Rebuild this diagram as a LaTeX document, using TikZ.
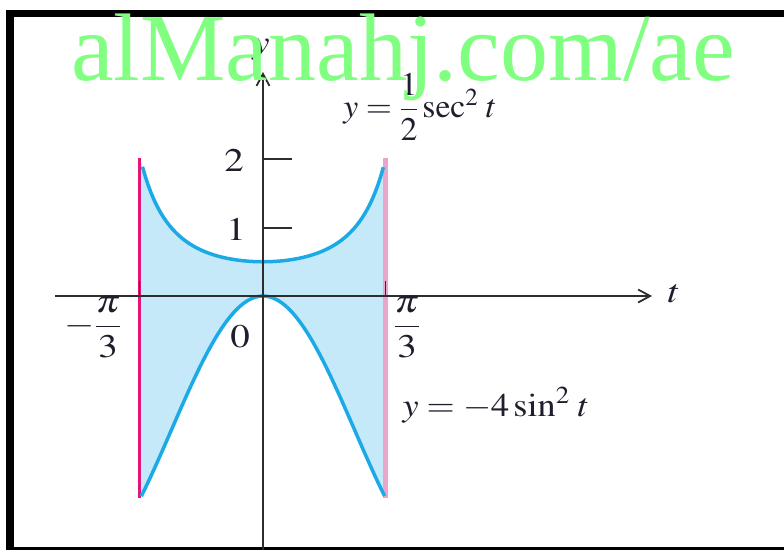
\documentclass[tikz,border=0pt]{standalone}
\usepackage{amsmath}
\usepackage{graphicx}
\usepackage{mathptmx}
\usepackage{fontspec}
\setmainfont{Liberation Serif}
\usetikzlibrary{arrows.meta}
\definecolor{curveblue}{RGB}{28,170,230}
\definecolor{fillblue}{RGB}{198,233,250}
\definecolor{magline}{RGB}{228,20,125}
\definecolor{pinkline}{RGB}{235,165,205}
\definecolor{axisgray}{RGB}{45,45,45}
\definecolor{txtdark}{RGB}{30,30,45}
\definecolor{wmgreen}{RGB}{128,255,128}
\newcommand{\widetxt}[1]{\scalebox{1.18}[1]{#1}}
\begin{document}
\begin{tikzpicture}[x=1pt,y=-1pt,
  axisline/.style={draw=axisgray,line width=1.8pt},
  tickmark/.style={draw=axisgray,line width=1.8pt},
  lbl/.style={inner sep=0pt,text=txtdark,font=\fontsize{33}{40}\selectfont},
  curveline/.style={draw=curveblue,line width=3.5pt},
  arrowtip/.style={-{Straight Barb[length=12pt,width=13pt,line width=1.8pt]}},
]
\useasboundingbox (0,0) rectangle (784,550);
% frame
\fill[black] (6,10) rectangle (784,17);
\fill[black] (6,10) rectangle (14,550);
\fill[black] (6,547) rectangle (784,550);
% shaded region
\fill[fillblue] plot[domain=-1.0472:1.0472,samples=80] ({263+117*\x},{296-68.5*0.5/(cos(\x r)*cos(\x r))})
  -- plot[domain=1.0472:-1.0472,samples=80] ({263+117*\x},{296+67.3*4*sin(\x r)*sin(\x r)}) -- cycle;
% vertical bounding lines
\coordinate (L1) at (139.5,158);
\coordinate (L2) at (139.5,498);
\coordinate (R1) at (385.5,158);
\coordinate (R2) at (385.5,498);
\draw[magline,line width=2.5pt] (L1) -- (L2);
\draw[pinkline,line width=5pt] (R1) -- (R2);
% curves
\draw[curveline] plot[domain=-1.03:1.03,samples=80] ({263+117*\x},{296-68.5*0.5/(cos(\x r)*cos(\x r))});
\draw[curveline] plot[domain=-1.04:1.04,samples=80] ({263+117*\x},{296+67.3*4*sin(\x r)*sin(\x r)});
% axes
\coordinate (xs) at (55,296);
\coordinate (xe) at (652,296);
\coordinate (ys) at (263,550);
\coordinate (ye) at (263,72);
\draw[axisline,arrowtip] (xs) -- (xe);
\draw[axisline,arrowtip] (ys) -- (ye);
% ticks
\coordinate (t2a) at (263,159); \coordinate (t2b) at (292,159);
\coordinate (t1a) at (263,228); \coordinate (t1b) at (292,228);
\coordinate (tla) at (139.5,296); \coordinate (tlb) at (139.5,281);
\coordinate (tra) at (385.5,296); \coordinate (trb) at (385.5,281);
\draw[tickmark] (t2a) -- (t2b);
\draw[tickmark] (t1a) -- (t1b);
\draw[tickmark] (tla) -- (tlb);
\draw[tickmark] (tra) -- (trb);
% labels
\node[lbl] (lab2) at (234,160) {\widetxt{$2$}};
\node[lbl] (lab1) at (236,229) {\widetxt{$1$}};
\node[lbl] (lab0) at (240,337) {\widetxt{$0$}};
\node[lbl] (labm) at (93,327) {\widetxt{$-\dfrac{\pi}{3}$}};
\node[lbl] (labp) at (407,327) {\widetxt{$\dfrac{\pi}{3}$}};
\node[lbl] (labt) at (674,294) {\widetxt{$t$}};
\node[lbl] (laby) at (261,50) {\widetxt{$y$}};
\node[lbl] (eqsec) at (420,107) {\scalebox{1.02}[1]{$y=\dfrac{1}{2}\sec^2\,t$}};
\node[lbl] (eqsin) at (496,405) {\scalebox{1.1}[1]{$y=-4\sin^2\,t$}};
% watermark
\node[inner sep=0pt,anchor=base,text=wmgreen,font=\fontsize{96}{100}\selectfont] (wm) at (403,80) {alManahj.com/ae};
\end{tikzpicture}
\end{document}
